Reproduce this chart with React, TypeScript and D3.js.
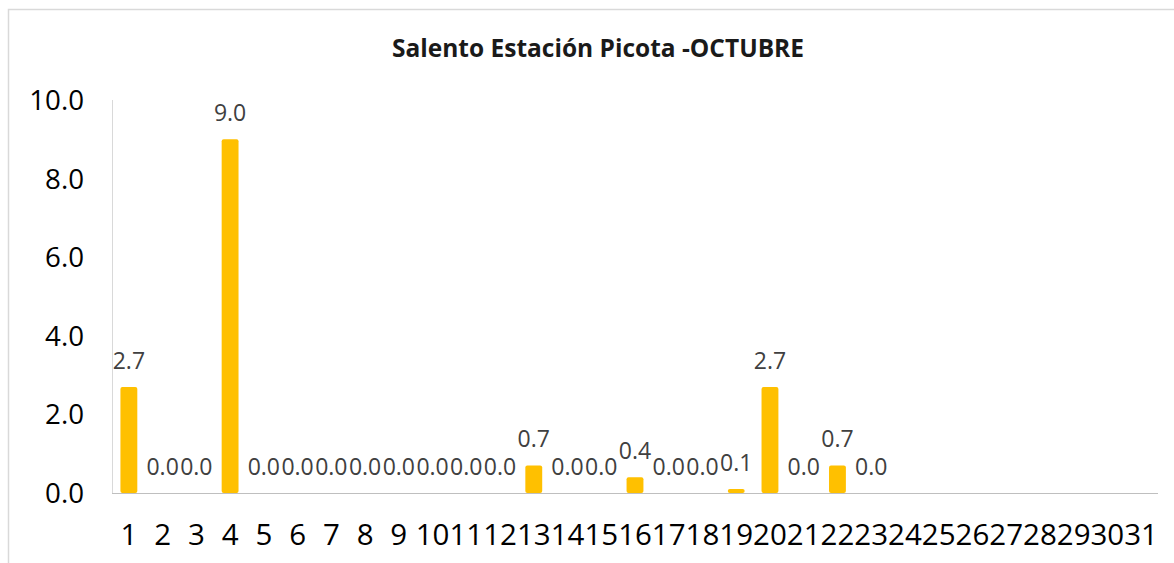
import React from "react";
import * as d3 from "d3";

const days = d3.range(1, 32).map(String);
// null = no data for that day
const rain: (number | null)[] = [
  2.7, 0.0, 0.0, 9.0, 0.0, 0.0, 0.0, 0.0, 0.0, 0.0, 0.0, 0.0, 0.7, 0.0, 0.0, 0.4,
  0.0, 0.0, 0.1, 2.7, 0.0, 0.7, 0.0, null, null, null, null, null, null, null, null,
];
const yTicks = [0, 2, 4, 6, 8, 10];
const title = "Salento Estación Picota -OCTUBRE";

const W = 1174;
const H = 563;
const margin = { left: 112, right: 16, top: 100, bottom: 70 };
const font = "'Open Sans', sans-serif";

export default function App() {
  const x = d3
    .scaleBand()
    .domain(days)
    .range([margin.left, W - margin.right])
    .paddingInner(0.5)
    .paddingOuter(0.25);
  const y = d3.scaleLinear().domain([0, 10]).range([H - margin.bottom, margin.top]);
  const bw = x.bandwidth();
  const x0 = margin.left;
  const x1 = W - margin.right;

  return (
    <svg
      width={W}
      height={H}
      style={{ position: "absolute", left: 0, top: 0, background: "#fff" }}
    >
      <rect x={8.5} y={9.5} width={W} height={H} fill="#fff" stroke="#d9d9d9" strokeWidth={1.5} />
      <text
        x={598}
        y={57}
        textAnchor="middle"
        fontFamily={font}
        fontWeight="bold"
        fontSize={24.5}
        fill="#1a1a1a"
      >
        {title}
      </text>

      <line x1={x0 + 0.5} x2={x0 + 0.5} y1={y(10)} y2={y(0)} stroke="#d9d9d9" />
      <line x1={x0} x2={x1} y1={y(0) + 0.5} y2={y(0) + 0.5} stroke="#bfbfbf" strokeWidth={1.2} />

      {yTicks.map((t) => (
        <text
          key={t}
          x={84}
          y={y(t) + 10}
          textAnchor="end"
          fontFamily={font}
          fontSize={27.7}
          fill="#000"
        >
          {t.toFixed(1)}
        </text>
      ))}

      {days.map((d) => (
        <text
          key={d}
          x={(x(d) as number) + bw / 2}
          y={545}
          textAnchor="middle"
          fontFamily={font}
          fontSize={29.5}
          fill="#000"
        >
          {d}
        </text>
      ))}

      {rain.map((v, i) =>
        v === null || v <= 0 ? null : (
          <rect
            key={i}
            x={x(days[i]) as number}
            y={y(v)}
            width={bw}
            height={y(0) - y(v)}
            rx={2}
            fill="#ffc000"
          />
        )
      )}

      {rain.map((v, i) =>
        v === null ? null : (
          <text
            key={i}
            x={(x(days[i]) as number) + bw / 2}
            y={y(v) - 18}
            textAnchor="middle"
            fontFamily={font}
            fontSize={23}
            fill="#404040"
          >
            {v.toFixed(1)}
          </text>
        )
      )}
    </svg>
  );
}
